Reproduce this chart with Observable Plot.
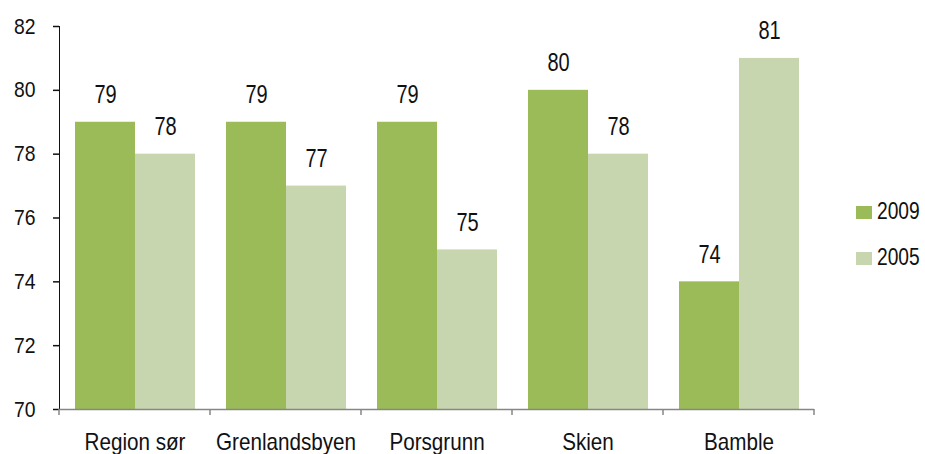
<!DOCTYPE html>
<html>
<head>
<meta charset="utf-8">
<script src="https://cdn.jsdelivr.net/npm/d3@7"></script>
<script src="https://cdn.jsdelivr.net/npm/@observablehq/plot@0.6"></script>
<style>
  html, body { margin: 0; padding: 0; background: #fff; }
  #wrap { position: relative; width: 925px; height: 454px; font-family: "Liberation Sans", Arial, sans-serif; }
  .key { position: absolute; left: 856px; width: 16px; height: 13px; }
  .lab { position: absolute; left: 877px; font-size: 24px; line-height: 24px; color: #111; transform: scaleX(0.8); transform-origin: left center; white-space: nowrap; }
</style>
</head>
<body>
<div id="wrap"></div>
<script>
const categories = ["Region sør", "Grenlandsbyen", "Porsgrunn", "Skien", "Bamble"];
const years = ["2009", "2005"];
const values2009 = [79, 79, 79, 80, 74];
const values2005 = [78, 77, 75, 78, 81];
const yTicks = [70, 72, 74, 76, 78, 80, 82];
const colors = ["#9bbb59", "#c7d6ae"];

const data = [];
categories.forEach((c, i) => {
  data.push({category: c, year: "2009", value: values2009[i]});
  data.push({category: c, year: "2005", value: values2005[i]});
});

const font = "\"Liberation Sans\", Arial, sans-serif";

const plot = Plot.plot({
  width: 925,
  height: 454,
  marginTop: 26,
  marginBottom: 45,
  marginLeft: 58,
  marginRight: 110,
  style: {fontFamily: font, fontSize: "24px", color: "#111", background: "#fff", overflow: "visible"},
  fx: {domain: categories, padding: 0, label: null, tickSize: 0, tickPadding: 23},
  x: {domain: years, paddingInner: 0, paddingOuter: 0.24, axis: null},
  y: {domain: [70, 82], ticks: yTicks, tickSize: 6, tickPadding: 18, label: null, line: true},
  color: {domain: years, range: colors},
  marks: [
    Plot.barY(data, {fx: "category", x: "year", y1: 70, y2: "value", fill: "year"}),
    Plot.text(data, {fx: "category", x: "year", y: "value", text: d => String(d.value), lineAnchor: "bottom", dy: -19, fill: "#111", fontSize: 25}),
    Plot.ruleY([70], {stroke: "#868686", strokeWidth: 1.5})
  ]
});

const svg = d3.select(plot);
svg.selectAll("[aria-label='y-axis tick'], [aria-label='y-axis line']").attr("stroke", "#868686").attr("stroke-width", 1.5);
svg.selectAll("[aria-label='y-axis tick label']").attr("font-size", 22);

// boundary ticks below x axis, placed with the fx scale
const fx = plot.scale("fx");
const y = plot.scale("y");
const y0 = y.apply(70);
const bounds = categories.map(c => fx.apply(c));
bounds.push(fx.apply(categories[categories.length - 1]) + fx.bandwidth);
const g = svg.append("g").attr("stroke", "#868686").attr("stroke-width", 1.5);
bounds.forEach(b => {
  g.append("line").attr("x1", b).attr("x2", b).attr("y1", y0).attr("y2", y0 + 6);
});

const wrap = document.getElementById("wrap");
wrap.appendChild(plot);

// narrow the glyphs (the original uses a condensed face)
function narrow(sel, s) {
  sel.each(function() {
    const len = this.getComputedTextLength();
    this.setAttribute("textLength", (len * s).toFixed(2));
    this.setAttribute("lengthAdjust", "spacingAndGlyphs");
  });
}
narrow(svg.selectAll("[aria-label='y-axis tick label'] text"), 0.88);
narrow(svg.selectAll("[aria-label='fx-axis tick label'] text"), 0.86);
narrow(svg.selectAll("[aria-label='text'] text"), 0.8);

const keyTops = [206, 252];
const labTops = [199, 245];
years.forEach((yr, i) => {
  const k = document.createElement("div");
  k.className = "key";
  k.style.top = keyTops[i] + "px";
  k.style.background = colors[i];
  wrap.appendChild(k);
  const t = document.createElement("div");
  t.className = "lab";
  t.style.top = labTops[i] + "px";
  t.textContent = yr;
  wrap.appendChild(t);
});
</script>
</body>
</html>
